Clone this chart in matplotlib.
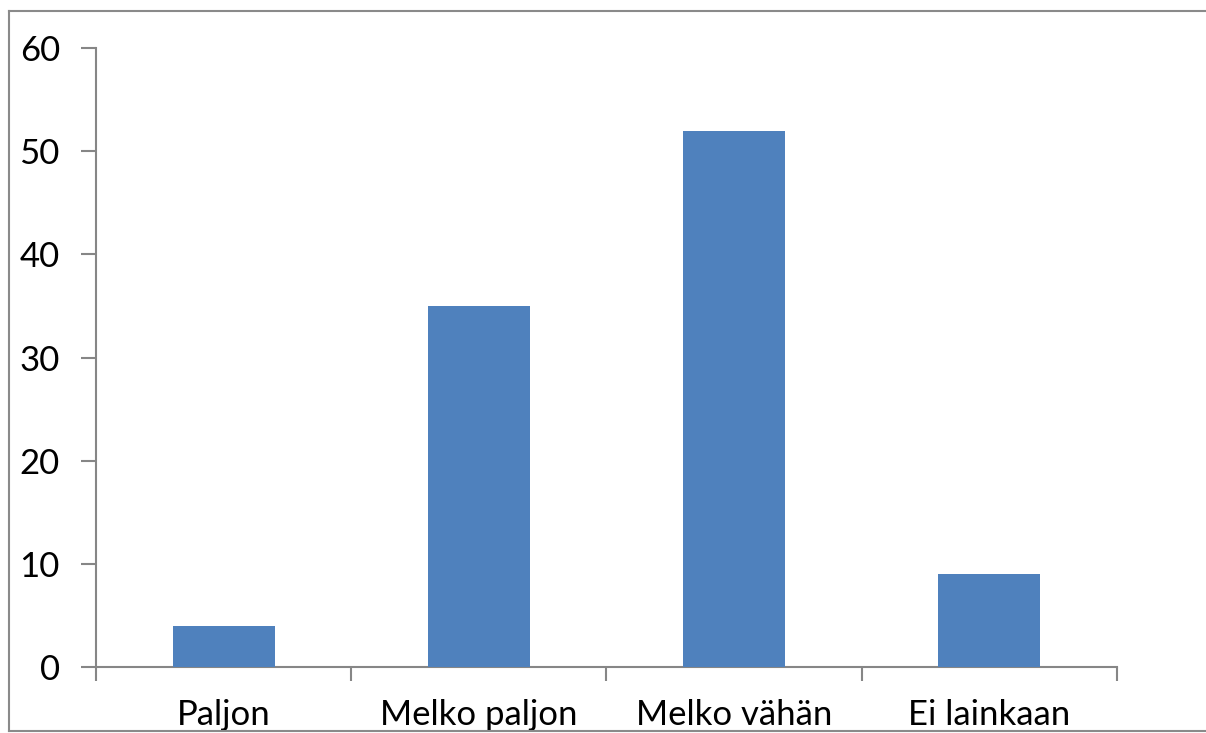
import matplotlib.pyplot as plt
from matplotlib.lines import Line2D
from matplotlib.ticker import FixedLocator

categories = ["Paljon", "Melko paljon", "Melko vähän", "Ei lainkaan"]
values = [4, 35, 52, 9]
yticks = [0, 10, 20, 30, 40, 50, 60]

plt.rcParams['font.family'] = ['Lato', 'DejaVu Sans']

fig = plt.figure(figsize=(12.06, 7.33), dpi=100)
ax = fig.add_axes([0.0796, 0.09, 0.8466, 0.8445])

x = list(range(len(categories)))
ax.bar(x, values, width=0.4, color="#4F81BD", zorder=3)

ax.set_xlim(-0.5, len(categories) - 0.5)
ax.set_ylim(0, 60)
ax.set_yticks(yticks)
ax.set_xticks(x)
ax.set_xticklabels(categories, fontsize=25)
ax.tick_params(axis='x', which='major', length=0, pad=23)
ax.xaxis.set_minor_locator(FixedLocator([i - 0.5 for i in range(len(categories) + 1)]))
ax.tick_params(axis='x', which='minor', length=10, width=1.5, color="#868686", direction='out')
ax.tick_params(axis='y', length=11, width=1.5, color="#868686", pad=15, labelsize=25)

for s in ['top', 'right']:
    ax.spines[s].set_visible(False)
for s in ['left', 'bottom']:
    ax.spines[s].set_color("#868686")
    ax.spines[s].set_linewidth(1.5)

# outer frame of the chart area (left, top, bottom)
c = "#8a8a8a"
fig.add_artist(Line2D([9 / 1206, 9 / 1206], [1 - 11 / 733, 1 - 731 / 733], color=c, lw=1.5))
fig.add_artist(Line2D([9 / 1206, 1.0], [1 - 11 / 733, 1 - 11 / 733], color=c, lw=1.5))
fig.add_artist(Line2D([9 / 1206, 1.0], [1 - 731 / 733, 1 - 731 / 733], color=c, lw=1.5))

fig.savefig("out.png", dpi=100)
